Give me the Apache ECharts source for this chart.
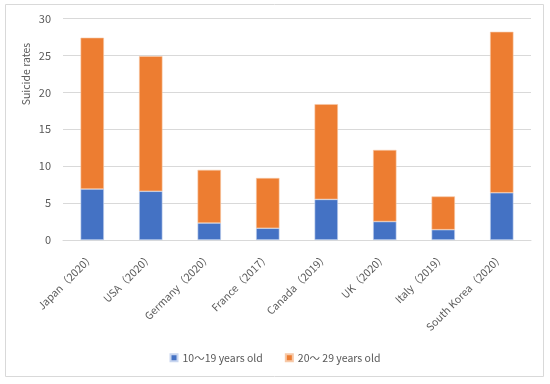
<!DOCTYPE html>
<html><head><meta charset="utf-8">
<script src="https://cdn.jsdelivr.net/npm/echarts@6/dist/echarts.min.js"></script>
<style>html,body{margin:0;padding:0;background:#fff}#c{width:550px;height:384px}</style>
</head><body><div id="c"></div>
<script>
const categories = ["Japan（2020）","USA（2020）","Germany（2020）","France（2017）","Canada（2019）","UK（2020）","Italy（2019）","South Korea（2020）"];
const teens = [6.9, 6.6, 2.3, 1.6, 5.5, 2.5, 1.4, 6.4];
const twenties = [20.5, 18.3, 7.2, 6.8, 12.9, 9.7, 4.5, 21.8];
const seriesNames = ["10～19 years old", "20～ 29 years old"];
const yTicks = [0, 5, 10, 15, 20, 25, 30];

const font = "'Noto Sans CJK SC', 'Noto Sans', sans-serif";
const chart = echarts.init(document.getElementById('c'));
chart.setOption({
  animation: false,
  textStyle: {fontFamily: font},
  graphic: [
    {type: 'rect', shape: {x: 5.5, y: 4.5, width: 538, height: 372}, style: {fill: 'none', stroke: '#d9d9d9', lineWidth: 1}, silent: true},
    {type: 'text', x: 26, y: 74, rotation: Math.PI/2, style: {text: 'Suicide rates', fill: '#595959', font: "10.5px " + font, align: 'center', verticalAlign: 'middle'}}
  ],
  grid: {left: 63, right: 19, top: 18.5, bottom: 144, containLabel: false},
  legend: {
    bottom: 16, left: 'center', itemWidth: 7, itemHeight: 7, itemGap: 22, icon: 'rect',
    textStyle: {color: '#595959', fontSize: 10.5, fontFamily: font},
    data: seriesNames
  },
  xAxis: {
    type: 'category', data: categories,
    axisLine: {lineStyle: {color: '#d9d9d9'}},
    axisTick: {show: false},
    axisLabel: {rotate: 45, color: '#595959', fontSize: 10.5, interval: 0, margin: 15, fontFamily: font}
  },
  yAxis: {
    type: 'value', min: 0, max: 30, interval: 5,
    axisLine: {show: false}, axisTick: {show: false},
    splitLine: {lineStyle: {color: '#d9d9d9'}},
    axisLabel: {color: '#595959', fontSize: 11, margin: 12, fontFamily: font}
  },
  series: [
    {name: seriesNames[0], type: 'bar', stack: 'a', data: teens, barWidth: '40%', itemStyle: {color: '#4472C4', borderColor: '#c9d6ef', borderWidth: 0.6}},
    {name: seriesNames[1], type: 'bar', stack: 'a', data: twenties, barWidth: '40%', itemStyle: {color: '#ED7D31', borderColor: '#f7c9a8', borderWidth: 0.6}}
  ]
});
</script></body></html>
